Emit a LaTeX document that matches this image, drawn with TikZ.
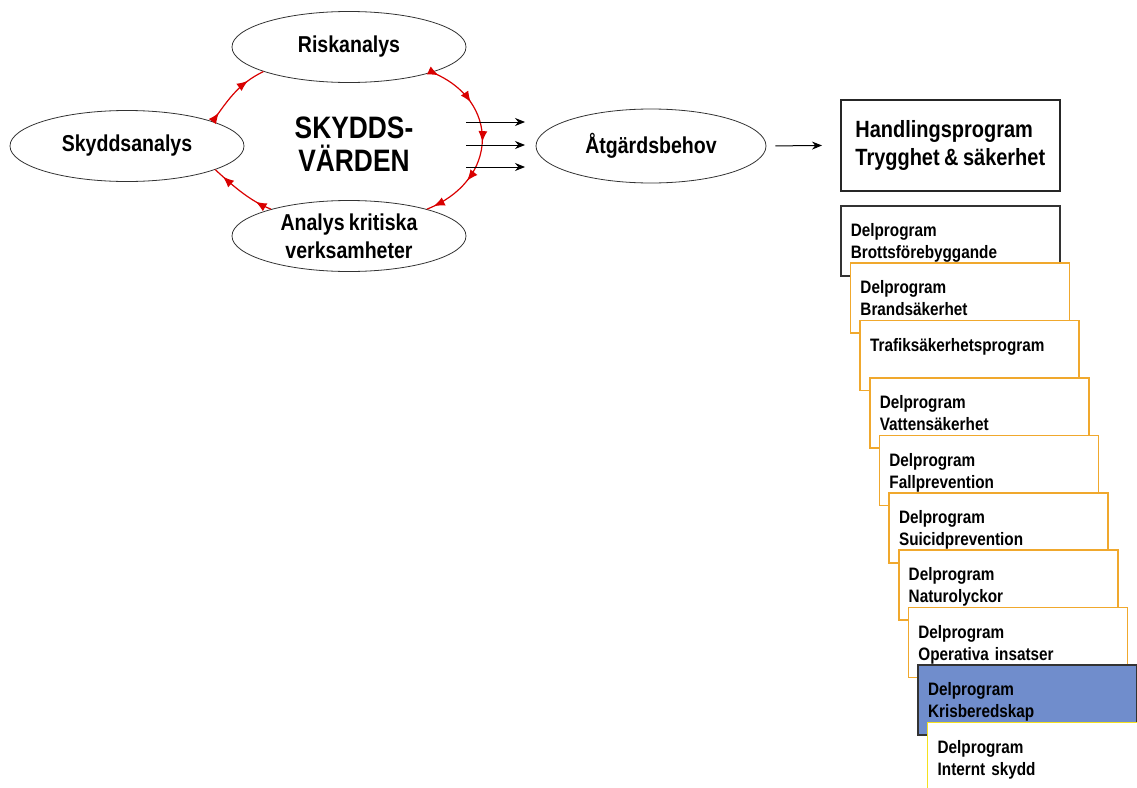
\documentclass[tikz,border=0pt]{standalone}
\usepackage{fontspec}
\setmainfont{Liberation Sans}[FakeStretch=0.85, WordSpace=0.8]
\usetikzlibrary{shapes.geometric,arrows.meta,decorations.markings}

\definecolor{delorange}{RGB}{240,168,45}
\definecolor{delblue}{RGB}{112,141,204}
\definecolor{delyellow}{RGB}{245,225,30}

\begin{document}
\begin{tikzpicture}[x=1pt, y=-1pt,
    oval/.style={ellipse, draw=black!80, thick, minimum width=234pt, minimum height=71pt, inner sep=0pt, align=center, font=\fontsize{23}{28}\selectfont\bfseries},
    delbox/.style={draw=delorange, line width=1.6pt, fill=white, anchor=north west, minimum width=219pt, minimum height=70pt, text width=199pt, inner xsep=10pt, inner ysep=0pt, align=left, font=\fontsize{18}{22}\selectfont\bfseries},
    arr/.style={-{Stealth[length=10pt,width=8pt]}, line width=1pt},
    redloop/.style={red!85!black, line width=1.2pt, decoration={markings, mark=between positions #1 with {\arrow{Latex[length=11pt,width=9pt]}}}, postaction={decorate}}]
    \useasboundingbox (0,0) rectangle (1137,787);

    % draw the analysis ovals
    \node[oval] (risk) at (349,47) {Riskanalys};
    \node[oval] (skydd) at (127,146) {Skyddsanalys};
    \node[oval] (kritisk) at (349,236) {Analys kritiska\\verksamheter};
    \node[font=\fontsize{31}{33}\selectfont\bfseries, align=center] (varden) at (354,144) {SKYDDS-\\VÄRDEN};

    % draw red cycle
    \draw[redloop={0.15 and 0.85 step 0.6}] (skydd.16) .. controls (228,100) and (238,84) .. (risk.196);
    \draw[redloop={0.04 and 0.96 step 0.23}] (risk.-17) .. controls (500,100) and (500,180) .. (kritisk.19);
    \draw[redloop={0.25 and 0.85 step 0.6}] (kritisk.161) .. controls (252,202) and (235,188) .. (skydd.-15);

    % draw outgoing arrows
    \foreach \y [count=\k] in {122,145,167} {
        \coordinate (out\k) at (466,\y);
        \coordinate (in\k) at (525,\y);
        \draw[arr] (out\k) -- (in\k);
    }

    \node[oval, minimum width=230pt, minimum height=74pt] (atgard) at (651,146) {Åtgärdsbehov};
    \node[draw=black!85, line width=1.6pt, anchor=north west, minimum width=219pt, minimum height=91pt, align=left, font=\fontsize{23.5}{28}\selectfont\bfseries] (handling) at (840,99) {Handlingsprogram\\Trygghet \& säkerhet};
    \draw[arr, shorten <=9pt, shorten >=18pt] (atgard.east) -- (handling.west);

    % draw stacked sub programmes
    \foreach \i/\col/\fil/\ta/\tb in {
        0/black!80/white/Delprogram/Brottsförebyggande,
        1/delorange/white/Delprogram/Brandsäkerhet,
        2/delorange/white/Trafiksäkerhetsprogram/{},
        3/delorange/white/Delprogram/Vattensäkerhet,
        4/delorange/white/Delprogram/Fallprevention,
        5/delorange/white/Delprogram/Suicidprevention,
        6/delorange/white/Delprogram/Naturolyckor,
        7/delorange/white/Delprogram/Operativa insatser,
        8/black!80/delblue/Delprogram/Krisberedskap,
        9/delyellow/white/Delprogram/Internt skydd}
        \node[delbox, draw=\col, fill=\fil] (del\i) at (840+9.65*\i, 205+57.4*\i) {\rule{0pt}{20pt}\ta\\\tb\strut};

\end{tikzpicture}
\end{document}
